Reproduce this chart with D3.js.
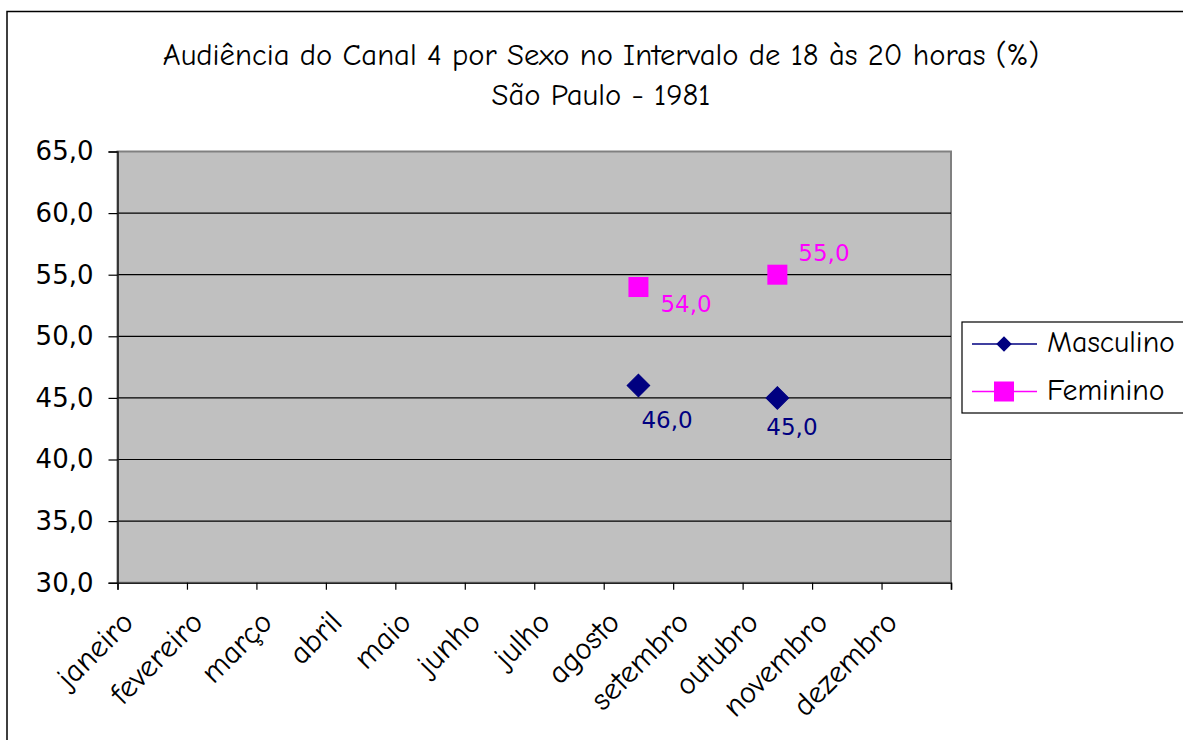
<!DOCTYPE html>
<html><head><meta charset="utf-8">
<script src="https://cdn.jsdelivr.net/npm/d3@7"></script>
<style>
html,body{margin:0;padding:0;background:#fff;}
svg{display:block;}
</style></head>
<body>
<script>
const months = ["janeiro","fevereiro","março","abril","maio","junho","julho","agosto","setembro","outubro","novembro","dezembro"];
const masculino = [null,null,null,null,null,null,null,46.0,null,45.0,null,null];
const feminino  = [null,null,null,null,null,null,null,54.0,null,55.0,null,null];
const yTicks = [30,35,40,45,50,55,60,65];
const titleLines = ["Audiência do Canal 4 por Sexo no Intervalo de 18 às 20 horas (%)","São Paulo - 1981"];
const seriesNames = ["Masculino","Feminino"];
const seriesColors = ["#000080","#FF00FF"];
// label offsets (layout, px) per series per point index
const mascLabelOff = {7:[3,42], 9:[-11,37]};
const femLabelOff  = {7:[22,25], 9:[21,-14]};

const W = 1183, H = 740;
const comic = "'Comic Sans MS','Comic Neue',Lato,'Open Sans',sans-serif";
const numFont = "'DejaVu Sans',Verdana,sans-serif";

const svg = d3.select("body").append("svg").attr("width",W).attr("height",H);
svg.append("rect").attr("x",0).attr("y",0).attr("width",W).attr("height",H).attr("fill","#fff");
// outer chart border
svg.append("rect").attr("x",7).attr("y",11.5).attr("width",W+20).attr("height",H+20)
  .attr("fill","none").attr("stroke","#000").attr("stroke-width",1.5);

function fit(sel, target){
  const w = sel.node().getComputedTextLength();
  const fs = parseFloat(sel.attr("font-size"));
  sel.attr("font-size", fs*target/w);
}

// title
const t1 = svg.append("text").attr("x",601).attr("y",65).attr("text-anchor","middle")
  .attr("font-family",comic).attr("font-size",25).attr("fill","#000").text(titleLines[0]);
fit(t1, 877);
const t2 = svg.append("text").attr("x",601).attr("y",105).attr("text-anchor","middle")
  .attr("font-family",comic).attr("font-size",t1.attr("font-size")).attr("fill","#000").text(titleLines[1]);

const L = 117.5, R = 951, T = 151.5, B = 582.7;
const y = d3.scaleLinear().domain([30,65]).range([B,T]);
const xb = d3.scaleBand().domain(months).range([L,R]).padding(0);
const xi = d3.scaleLinear().domain([0,12]).range([L,R]);

// plot area
svg.append("rect").attr("x",L).attr("y",T).attr("width",R-L).attr("height",B-T)
  .attr("fill","#C0C0C0").attr("stroke","#808080").attr("stroke-width",2);

// gridlines
svg.append("g").selectAll("line").data(yTicks.filter(d=>d>30&&d<65)).join("line")
  .attr("x1",L).attr("x2",R).attr("y1",d=>y(d)).attr("y2",d=>y(d))
  .attr("stroke","#000").attr("stroke-width",1.2);

// y axis
const fmt = d => d3.format(".1f")(d).replace(".",",");
const ya = svg.append("g").attr("transform",`translate(${L},0)`)
  .call(d3.axisLeft(y).tickValues(yTicks).tickFormat(fmt).tickSize(9).tickPadding(15));
ya.select(".domain").attr("stroke","#222").attr("stroke-width",1.6);
ya.selectAll(".tick line").attr("stroke","#000").attr("stroke-width",1.2);
ya.selectAll("text").attr("font-family",numFont).attr("font-size",26).attr("fill","#000");

// x axis
const xa = svg.append("g").attr("transform",`translate(0,${B})`)
  .call(d3.axisBottom(xi).tickValues(d3.range(0,13)).tickFormat("").tickSize(7));
xa.select(".domain").attr("stroke","#222").attr("stroke-width",1.6);
xa.selectAll(".tick line").attr("stroke","#000").attr("stroke-width",1.2);

// x labels
const xl = svg.append("g").selectAll("text").data(months).join("text")
  .attr("transform",d=>`translate(${xb(d)+xb.bandwidth()/2-17},624) rotate(-45)`)
  .attr("text-anchor","end").attr("font-family",comic).attr("font-size",22).attr("fill","#000")
  .text(d=>d);
{
  const node = xl.filter(d=>d==="fevereiro");
  const w = node.node().getComputedTextLength();
  xl.attr("font-size", 22*116/w);
}

// points
const cx = d => xb(d)+xb.bandwidth()/2;
const masc = months.map((m,i)=>({m,i,v:masculino[i]})).filter(d=>d.v!=null);
const fem  = months.map((m,i)=>({m,i,v:feminino[i]})).filter(d=>d.v!=null);

const diamond = d3.symbol().type(d3.symbolSquare).size(16*16);
svg.append("g").selectAll("path").data(masc).join("path")
  .attr("d",diamond).attr("transform",d=>`translate(${cx(d.m)},${y(d.v)}) rotate(45)`)
  .attr("fill",seriesColors[0]).attr("stroke",seriesColors[0]).attr("stroke-width",1);
svg.append("g").selectAll("rect").data(fem).join("rect")
  .attr("x",d=>cx(d.m)-10).attr("y",d=>y(d.v)-10).attr("width",20).attr("height",20)
  .attr("fill",seriesColors[1]);

// data labels
svg.append("g").selectAll("text").data(masc).join("text")
  .attr("x",d=>cx(d.m)+mascLabelOff[d.i][0]).attr("y",d=>y(d.v)+mascLabelOff[d.i][1])
  .attr("font-family",numFont).attr("font-size",23).attr("fill",seriesColors[0])
  .text(d=>fmt(d.v));
svg.append("g").selectAll("text").data(fem).join("text")
  .attr("x",d=>cx(d.m)+femLabelOff[d.i][0]).attr("y",d=>y(d.v)+femLabelOff[d.i][1])
  .attr("font-family",numFont).attr("font-size",23).attr("fill",seriesColors[1])
  .text(d=>fmt(d.v));

// legend
const lg = svg.append("g");
lg.append("rect").attr("x",962).attr("y",322).attr("width",240).attr("height",91)
  .attr("fill","#fff").attr("stroke","#000").attr("stroke-width",1.2);
const ly = [344,391.5];
seriesNames.forEach((n,i)=>{
  lg.append("line").attr("x1",972).attr("x2",1037).attr("y1",ly[i]).attr("y2",ly[i])
    .attr("stroke",seriesColors[i]).attr("stroke-width",1.5);
  if(i===0){
    lg.append("path").attr("d",d3.symbol().type(d3.symbolSquare).size(11*11))
      .attr("transform",`translate(1004,${ly[i]}) rotate(45)`).attr("fill",seriesColors[i]);
  } else {
    lg.append("rect").attr("x",994).attr("y",ly[i]-10).attr("width",20).attr("height",20).attr("fill",seriesColors[i]);
  }
  const t = lg.append("text").attr("x",1047).attr("y",ly[i]+8).attr("font-family",comic)
    .attr("font-size",22).attr("fill","#000").text(n);
  if(i===0) fit(t,128);
  else t.attr("font-size", lg.select("text").attr("font-size"));
});
</script>
</body></html>
